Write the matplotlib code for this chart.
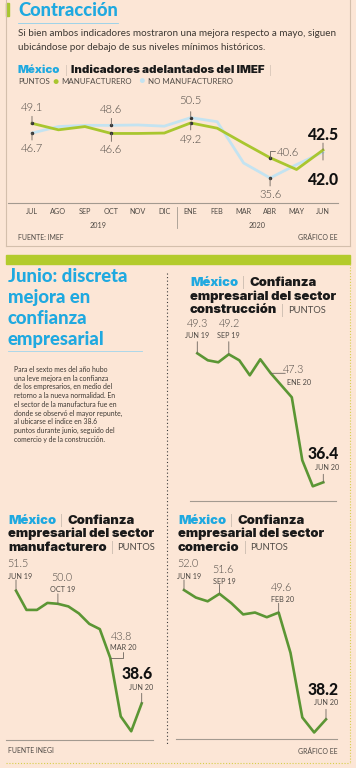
import matplotlib
matplotlib.use('Agg')
import matplotlib.pyplot as plt
from matplotlib.lines import Line2D
from matplotlib.patches import Rectangle

plt.rcParams['font.family'] = ['Lato', 'DejaVu Sans']

W, H = 356, 768
BG = '#fce6d6'
CYAN = '#1fa9e0'
LIME = '#a9c62f'
SKY = '#c3e3f1'
GREEN = '#5b9634'
GRAY = '#4f4a45'
RULE = '#a39a90'

# IMEF (jul 2019 - jun 2020)
meses_imef = ['JUL', 'AGO', 'SEP', 'OCT', 'NOV', 'DIC',
              'ENE', 'FEB', 'MAR', 'ABR', 'MAY', 'JUN']
manufacturero = [49.1, 47.5, 48.3, 46.6, 46.6, 46.7, 49.2, 47.9, 44.2, 40.6, 37.7, 42.5]
no_manufacturero = [46.7, 48.3, 48.6, 48.6, 48.7, 48.4, 50.5, 49.5, 39.3, 35.6, 38.9, 42.0]

# INEGI confianza empresarial (jun 2019 - jun 2020)
meses_inegi = ['JUN 19', 'JUL 19', 'AGO 19', 'SEP 19', 'OCT 19', 'NOV 19', 'DIC 19',
               'ENE 20', 'FEB 20', 'MAR 20', 'ABR 20', 'MAY 20', 'JUN 20']
construccion = [49.3, 48.6, 48.4, 49.2, 48.6, 47.1, 48.7, 47.3, 46.1, 44.9, 38.6, 36.0, 36.4]
manufactura = [51.5, 49.3, 49.3, 50.1, 50.0, 49.7, 48.9, 47.7, 47.1, 43.8, 37.1, 35.4, 38.6]
comercio = [52.0, 51.2, 50.8, 51.6, 50.6, 49.4, 49.6, 49.1, 49.6, 45.3, 38.4, 36.8, 38.2]

fig = plt.figure(figsize=(W / 100, H / 100), dpi=100, facecolor=BG)
R = fig.canvas.get_renderer()


def fit(s, target, **kw):
    # tamaño de letra para que el texto mida 'target' px de ancho
    t = fig.text(0, 0, s, fontsize=10, **kw)
    w = t.get_window_extent(R).width
    t.remove()
    return 10 * target / w


def txt(x, y, s, **kw):
    kw.setdefault('va', 'center')
    kw.setdefault('color', GRAY)
    return fig.text(x / W, 1 - y / H, s, **kw)


def chain(x, y, parts, gap=3):
    for s, kw in parts:
        t = txt(x, y, s, **kw)
        x += t.get_window_extent(R).width + gap


def hline(x0, x1, y, **kw):
    fig.add_artist(Line2D([x0 / W, x1 / W], [1 - y / H, 1 - y / H], transform=fig.transFigure, **kw))


def vline(x, y0, y1, **kw):
    fig.add_artist(Line2D([x / W, x / W], [1 - y0 / H, 1 - y1 / H], transform=fig.transFigure, **kw))


def px_axes(x0, y0, x1, y1):
    ax = fig.add_axes([x0 / W, 1 - y1 / H, (x1 - x0) / W, (y1 - y0) / H])
    ax.patch.set_visible(False)
    for s in ['top', 'left', 'right']:
        ax.spines[s].set_visible(False)
    ax.spines['bottom'].set_color(RULE)
    ax.spines['bottom'].set_linewidth(0.8)
    ax.set_yticks([])
    ax.set_xticks([])
    return ax


HEAVY = dict(fontweight=900)
WIDE = dict(family=['Inter', 'DejaVu Sans'], fontweight=900)
s_title = fit('Contracción', 100, **HEAVY)
s_sub = fit('Si bien ambos indicadores mostraron una mejora respecto a mayo, siguen', 318)
s_head = fit('Indicadores adelantados del IMEF', 193, **WIDE)
s_leg = fit('MANUFACTURERO', 70)
s_junio = fit('Junio: discreta', 120, **HEAVY)
s_body = fit('Para el sexto mes del año hubo', 94)
s_chart = fit('empresarial del sector', 147, **WIDE)
s_big = fit('42.5', 31, **HEAVY)
s_num = fit('50.0', 21, fontweight=300)
s_mes = fit('JUN 19', 24)
s_axis = fit('AGO', 16)
s_src = fit('FUENTE: IMEF', 45)


def label(ax, x, v, s, dx, dy, size=s_num, weight=300, color=GRAY):
    ax.annotate(s, (x, v), xytext=(dx, dy), textcoords='offset pixels',
                ha='center', va='center', fontsize=size, fontweight=weight, color=color)


def tick(ax, x, v, dx, dy, style='arc3'):
    ax.annotate('', (x, v), xytext=(dx, dy), textcoords='offset pixels',
                arrowprops=dict(arrowstyle='-', lw=0.6, color='#6b645d',
                                shrinkA=0, shrinkB=0, connectionstyle=style))


# ---------- parte superior ----------
fig.add_artist(Rectangle((6 / W, 1 - 16 / H), 3 / W, 13 / H, transform=fig.transFigure, color=LIME))
txt(18, 11, 'Contracción', fontsize=s_title, color=CYAN, **HEAVY)
hline(18, 118, 22.5, color='#8fd0ec', lw=0.6)
txt(18, 34, 'Si bien ambos indicadores mostraron una mejora respecto a mayo, siguen', fontsize=s_sub, color='#3d3833')
txt(18, 48, 'ubicándose por debajo de sus niveles mínimos históricos.', fontsize=s_sub, color='#3d3833')
chain(18, 70, [('México', dict(color=CYAN, fontsize=s_head, **WIDE)),
               ('|', dict(color='#aaa096', fontsize=s_head, fontweight=300)),
               ('Indicadores adelantados del IMEF', dict(color='#1a1a1a', fontsize=s_head, **WIDE)),
               ('|', dict(color='#aaa096', fontsize=s_head, fontweight=300))], gap=4)
chain(18, 82, [('PUNTOS', dict(fontsize=s_leg)),
               ('●', dict(color=LIME, fontsize=s_leg * 1.3)),
               ('MANUFACTURERO', dict(fontsize=s_leg)),
               ('  ●', dict(color=SKY, fontsize=s_leg * 1.3)),
               ('NO MANUFACTURERO', dict(fontsize=s_leg))], gap=2.5)

vline(6, 0, 246, color='#d4bfac', lw=0.8)
vline(350, 0, 246, color='#d4bfac', lw=0.8)
hline(6, 350, 246, color='#d4bfac', lw=0.8)

ax1 = px_axes(8, 95, 338, 203)
ax1.set_xlim(-0.907, 11.567)
ax1.set_ylim(29.42, 56.1)
xi = list(range(len(meses_imef)))
ax1.plot(xi, no_manufacturero, color=SKY, lw=2.0, solid_joinstyle='round')
ax1.plot(xi, manufacturero, color=LIME, lw=2.0, solid_joinstyle='round')
ax1.set_xticks(xi, meses_imef, fontsize=s_axis, color=GRAY)
ax1.tick_params(axis='x', length=0, pad=3.5)
xt = ax1.get_xaxis_transform()
ax1.text(2.5, -0.205, '2019', transform=xt, ha='center', va='center', fontsize=s_axis, color=GRAY)
ax1.text(8.5, -0.205, '2020', transform=xt, ha='center', va='center', fontsize=s_axis, color=GRAY)
ax1.plot([5.5, 5.5], [-0.04, -0.23], transform=xt, color=RULE, lw=0.6, clip_on=False)

for i in [0, 3, 6, 9]:
    ax1.plot(i, manufacturero[i], 'o', ms=1.5, color='#333')
    ax1.plot(i, no_manufacturero[i], 'o', ms=1.5, color='#333')

s1 = s_num * 1.05
label(ax1, 0, manufacturero[0], f'{manufacturero[0]:.1f}', 0, 15.5, size=s1)
tick(ax1, 0, manufacturero[0], 0, 7)
label(ax1, 0, no_manufacturero[0], f'{no_manufacturero[0]:.1f}', 0, -15, size=s1)
tick(ax1, 0, no_manufacturero[0], 0, -7)
label(ax1, 3, no_manufacturero[3], f'{no_manufacturero[3]:.1f}', 0, 15.5, size=s1)
tick(ax1, 3, no_manufacturero[3], 0, 7)
label(ax1, 3, manufacturero[3], f'{manufacturero[3]:.1f}', 0, -16.5, size=s1)
tick(ax1, 3, manufacturero[3], 0, -8)
label(ax1, 6, no_manufacturero[6], f'{no_manufacturero[6]:.1f}', 0, 17.5, size=s1)
tick(ax1, 6, no_manufacturero[6], 0, 6)
label(ax1, 6, manufacturero[6], f'{manufacturero[6]:.1f}', 0, -17, size=s1)
tick(ax1, 6, manufacturero[6], 0, -7)
label(ax1, 9, manufacturero[9], f'{manufacturero[9]:.1f}', 18, 5, size=s1)
tick(ax1, 9, manufacturero[9], 5, 7, 'angle,angleA=0,angleB=90,rad=0')
label(ax1, 9, no_manufacturero[9], f'{no_manufacturero[9]:.1f}', 0, -17, size=s1)
tick(ax1, 9, no_manufacturero[9], 0, -8)
label(ax1, 11, manufacturero[11], f'{manufacturero[11]:.1f}', 0, 15, size=s_big, weight=900, color='#111')
label(ax1, 11, no_manufacturero[11], f'{no_manufacturero[11]:.1f}', 0, -28, size=s_big, weight=900, color='#111')
tick(ax1, 11, manufacturero[11], 0, 7)
tick(ax1, 11, no_manufacturero[11], 0, -8)

txt(18, 237, 'FUENTE: IMEF', fontsize=s_src)
txt(338, 237, 'GRÁFICO EE', fontsize=s_src, ha='right')

# ---------- parte inferior ----------
fig.add_artist(Rectangle((6 / W, 1 - 264 / H), 344 / W, 9 / H, transform=fig.transFigure, color='#b3cb2c'))
vline(349.5, 264, 763, color='#d6cf4a', lw=0.8, linestyle=(0, (1, 1.6)))
hline(6, 350, 763, color='#d6cf4a', lw=0.8, linestyle=(0, (1, 1.6)))
vline(167, 273, 745, color='#3a3a3a', lw=0.8, linestyle=(0, (1, 2.2)))

for k, s in enumerate(['Junio: discreta', 'mejora en', 'confianza', 'empresarial']):
    txt(8, 277 + 21 * k, s, fontsize=s_junio, color=CYAN, **HEAVY)
hline(8, 142, 351, color='#9fd5ec', lw=0.6)
cuerpo = ['Para el sexto mes del año hubo',
          'una leve mejora en la confianza',
          'de los empresarios, en medio del',
          'retorno a la nueva normalidad. En',
          'el sector de la manufactura fue en',
          'donde se observó el mayor repunte,',
          'al ubicarse el índice en 38.6',
          'puntos durante junio, seguido del',
          'comercio y de la construcción.']
for k, s in enumerate(cuerpo):
    txt(14, 369.3 + 8.75 * k, s, fontsize=s_body, color='#3d3833')


def titulo(x, y, sector):
    chain(x, y, [('México', dict(color=CYAN, fontsize=s_chart, **WIDE)),
                 ('|', dict(color='#aaa096', fontsize=s_chart, fontweight=300)),
                 ('Confianza', dict(color='#1a1a1a', fontsize=s_chart, **WIDE))], gap=4)
    txt(x, y + 13.3, 'empresarial del sector', fontsize=s_chart, color='#1a1a1a', **WIDE)
    chain(x, y + 27.3, [(sector, dict(color='#1a1a1a', fontsize=s_chart, **WIDE)),
                        ('|', dict(color='#aaa096', fontsize=s_chart, fontweight=300)),
                        ('PUNTOS', dict(fontsize=s_chart * 0.72))], gap=4)


def serie(ax, vals):
    ax.plot(range(len(vals)), vals, color=GREEN, lw=1.9, solid_joinstyle='round')


def marca(ax, i, vals, num, mes, num_off, mes_off, t_off, style='arc3', big=False):
    v = vals[i]
    if big:
        label(ax, i, v, num, *num_off, size=s_big, weight=900, color='#111')
    else:
        label(ax, i, v, num, *num_off)
    label(ax, i, v, mes, *mes_off, size=s_mes, weight=400)
    tick(ax, i, v, *t_off, style=style)


# construcción
titulo(190, 283, 'construcción')
ax2 = px_axes(190, 315, 336, 501)
ax2.set_xlim(-0.695, 13.21)
ax2.set_ylim(34.53, 53.13)
serie(ax2, construccion)
marca(ax2, 0, construccion, f'{construccion[0]:.1f}', meses_inegi[0], (0, 30), (0, 18), (0, 11.6))
marca(ax2, 3, construccion, f'{construccion[3]:.1f}', meses_inegi[3], (1, 31), (0, 19), (0, 12.6))
marca(ax2, 7, construccion, f'{construccion[7]:.1f}', meses_inegi[7], (23, 3.5), (28, -9.4), (14.5, 0))
marca(ax2, 12, construccion, f'{construccion[12]:.1f}', meses_inegi[12], (0, 28), (3.4, 15), (0, 8), big=True)

# manufacturero
titulo(8, 520.7, 'manufacturero')
ax3 = px_axes(6, 555, 153, 740)
ax3.set_xlim(-0.955, 13.079)
ax3.set_ylim(34.40, 55.59)
serie(ax3, manufactura)
marca(ax3, 0, manufactura, f'{manufactura[0]:.1f}', meses_inegi[0], (2.3, 27.7), (4, 14.7), (0, 10.7))
marca(ax3, 4, manufactura, f'{manufactura[4]:.1f}', meses_inegi[4], (4, 26.3), (4.4, 14.3), (0, 10))
marca(ax3, 9, manufactura, f'{manufactura[9]:.1f}', meses_inegi[9], (10.8, 21.7), (13, 10), (13, 5.7),
      style='angle,angleA=90,angleB=0,rad=0')
marca(ax3, 12, manufactura, f'{manufactura[12]:.1f}', meses_inegi[12], (-4.5, 29.3), (-1, 15.6), (0, 10), big=True)
txt(8, 750.7, 'FUENTE INEGI', fontsize=s_src)

# comercio
titulo(178, 520.7, 'comercio')
ax4 = px_axes(176, 555, 337, 739.3)
ax4.set_xlim(-0.676, 12.93)
ax4.set_ylim(36.07, 55.74)
serie(ax4, comercio)
marca(ax4, 0, comercio, f'{comercio[0]:.1f}', meses_inegi[0], (3.5, 27), (5, 14), (0, 10))
marca(ax4, 3, comercio, f'{comercio[3]:.1f}', meses_inegi[3], (3.5, 24.3), (4.5, 12.6), (0, 9.3))
marca(ax4, 8, comercio, f'{comercio[8]:.1f}', meses_inegi[8], (3, 25.3), (4, 13.3), (0, 9.3))
marca(ax4, 12, comercio, f'{comercio[12]:.1f}', meses_inegi[12], (-3, 29.3), (0, 16.6), (0, 10), big=True)
txt(337, 751.7, 'GRÁFICO EE', fontsize=s_src, ha='right')

fig.savefig('out.png', dpi=100, facecolor=BG)
